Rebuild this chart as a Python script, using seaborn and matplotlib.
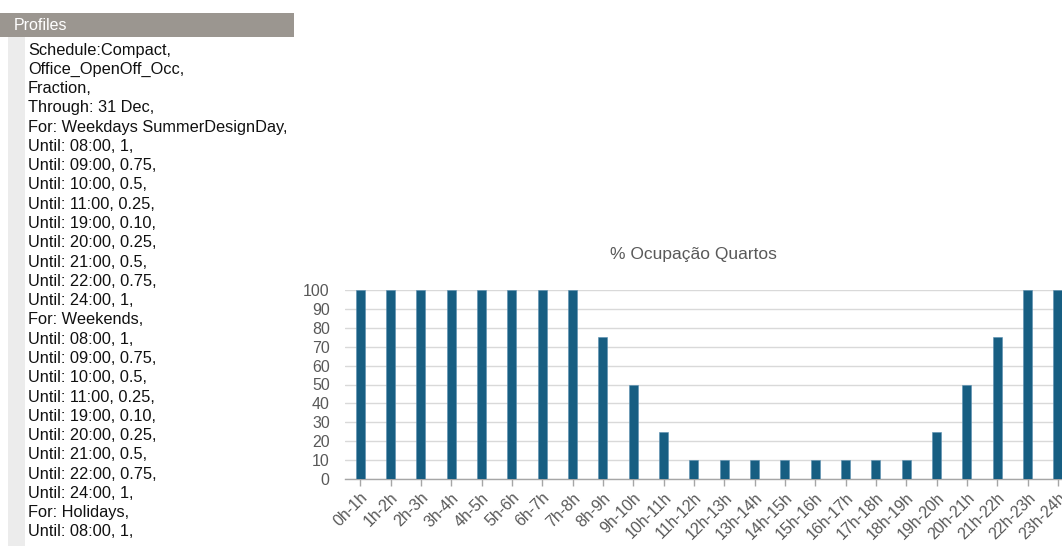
import matplotlib
matplotlib.use("Agg")
import matplotlib.pyplot as plt
from matplotlib.patches import Rectangle
import seaborn as sns
import pandas as pd

# ---- data ----
categories = ["0h-1h", "1h-2h", "2h-3h", "3h-4h", "4h-5h", "5h-6h", "6h-7h", "7h-8h",
              "8h-9h", "9h-10h", "10h-11h", "11h-12h", "12h-13h", "13h-14h", "14h-15h",
              "15h-16h", "16h-17h", "17h-18h", "18h-19h", "19h-20h", "20h-21h",
              "21h-22h", "22h-23h", "23h-24h"]
occupancy = [100, 100, 100, 100, 100, 100, 100, 100,
             75, 50, 25, 10, 10, 10, 10, 10, 10, 10, 10,
             25, 50, 75, 100, 100]
y_ticks = [0, 10, 20, 30, 40, 50, 60, 70, 80, 90, 100]
chart_title = "% Ocupação Quartos"
panel_header = "Profiles"
profile_lines = [
    "Schedule:Compact,",
    "Office_OpenOff_Occ,",
    "Fraction,",
    "Through: 31 Dec,",
    "For: Weekdays SummerDesignDay,",
    "Until: 08:00, 1,",
    "Until: 09:00, 0.75,",
    "Until: 10:00, 0.5,",
    "Until: 11:00, 0.25,",
    "Until: 19:00, 0.10,",
    "Until: 20:00, 0.25,",
    "Until: 21:00, 0.5,",
    "Until: 22:00, 0.75,",
    "Until: 24:00, 1,",
    "For: Weekends,",
    "Until: 08:00, 1,",
    "Until: 09:00, 0.75,",
    "Until: 10:00, 0.5,",
    "Until: 11:00, 0.25,",
    "Until: 19:00, 0.10,",
    "Until: 20:00, 0.25,",
    "Until: 21:00, 0.5,",
    "Until: 22:00, 0.75,",
    "Until: 24:00, 1,",
    "For: Holidays,",
    "Until: 08:00, 1,",
]

sns.set_theme(style="white")
plt.rcParams['font.family'] = ['Liberation Sans', 'DejaVu Sans']

W, H = 1062, 546
fig = plt.figure(figsize=(W / 100, H / 100), dpi=100)
fig.patch.set_facecolor("white")

def fx(px):
    return px / W

def fy(py):
    return 1 - py / H

# ---- left text panel ----
fig.patches.append(Rectangle((fx(8), fy(546)), fx(17), fy(37) - fy(546),
                             transform=fig.transFigure, facecolor="#ececec", edgecolor="none", zorder=0))
fig.patches.append(Rectangle((fx(0), fy(37)), fx(294), fy(13) - fy(37),
                             transform=fig.transFigure, facecolor="#9b9690", edgecolor="none", zorder=1))
fig.text(fx(14), fy(25), panel_header, color="white", fontsize=11.5, va="center", ha="left")
line_step = 19.28
for i, line in enumerate(profile_lines):
    fig.text(fx(28), fy(50 + i * line_step), line, color="#111111", fontsize=11.8,
             va="center", ha="left")

# ---- chart ----
ax = fig.add_axes([fx(345), fy(479), fx(1073 - 345), fy(290) - fy(479)])
df = pd.DataFrame({"hora": categories, "ocup": occupancy})
sns.barplot(data=df, x="hora", y="ocup", ax=ax, color="#175e82", width=0.3,
            saturation=1, edgecolor="#5a8fb0", linewidth=0.4, zorder=3)
ax.set_xlim(-0.5, len(categories) - 0.5)
ax.set_ylim(0, 100)
ax.set_yticks(y_ticks)
ax.set_xlabel("")
ax.set_ylabel("")
ax.yaxis.grid(True, color="#d9d9d9", linewidth=1.0, zorder=0)
ax.set_axisbelow(True)
for s in ["top", "right", "left"]:
    ax.spines[s].set_visible(False)
ax.spines["bottom"].set_color("#a6a6a6")
ax.spines["bottom"].set_linewidth(1.0)
ax.tick_params(axis="x", bottom=True, length=5, width=1, color="#a6a6a6",
               labelsize=11.5, labelcolor="#595959", pad=3)
ax.tick_params(axis="y", left=False, labelsize=11.5, labelcolor="#595959", pad=5)
plt.setp(ax.get_xticklabels(), rotation=45, ha="right", rotation_mode="anchor")
ax.patch.set_alpha(0)

fig.text(fx(693), fy(255), chart_title, color="#595959", fontsize=12.5, ha="center", va="center")

fig.savefig("out.png", dpi=100)
